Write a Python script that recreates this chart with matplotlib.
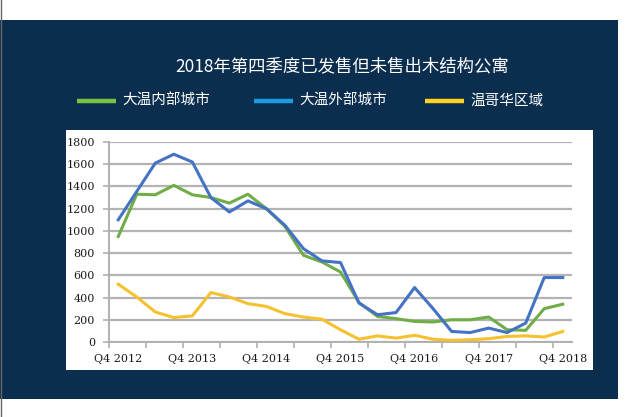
import matplotlib
matplotlib.use("Agg")
import matplotlib.pyplot as plt
from matplotlib.lines import Line2D
from matplotlib.patches import Rectangle

plt.rcParams['font.family'] = ['Noto Sans CJK SC', 'DejaVu Sans']

# ---- data (Q4 2012 .. Q4 2018, quarterly) ----
inner_city = [950, 1330, 1325, 1410, 1325, 1300, 1250, 1330, 1200, 1040,
              780, 720, 630, 355, 230, 210, 185, 180, 200, 200,
              225, 110, 105, 300, 340]
outer_city = [1100, 1355, 1610, 1690, 1620, 1300, 1170, 1270, 1200, 1050,
              840, 730, 715, 350, 245, 265, 490, 300, 95, 85,
              125, 85, 170, 580, 580]
vancouver = [520, 405, 270, 220, 235, 445, 405, 345, 320, 255,
             225, 205, 110, 25, 55, 35, 60, 25, 15, 20,
             30, 50, 55, 45, 95]
tick_labels = ["Q4 2012", "Q4 2013", "Q4 2014", "Q4 2015",
               "Q4 2016", "Q4 2017", "Q4 2018"]
y_ticks = [0, 200, 400, 600, 800, 1000, 1200, 1400, 1600, 1800]
series_names = ["大温内部城市", "大温外部城市", "温哥华区域"]
title = "2018年第四季度已发售但未售出木结构公寓"

W, H = 633, 417
fig = plt.figure(figsize=(W / 100, H / 100), dpi=100)
fig.patch.set_facecolor("white")

def fx(px):
    return px / W

def fy(py):
    return 1 - py / H

navy = "#0b2e4f"
fig.patches.append(Rectangle((0, fy(399)), fx(618), fy(19.5) - fy(399),
                             transform=fig.transFigure, facecolor=navy,
                             edgecolor="none", zorder=-2))
fig.patches.append(Rectangle((fx(66), fy(370)), fx(593) - fx(66), fy(130) - fy(370),
                             transform=fig.transFigure, facecolor="white",
                             edgecolor="none", zorder=-1))
fig.add_artist(Line2D([fx(0.5), fx(0.5)], [0, 1], transform=fig.transFigure,
                      color="#666666", lw=1.0, zorder=-1))

ax = fig.add_axes([fx(109), fy(342), fx(572) - fx(109), fy(142) - fy(342)])
ax.set_zorder(2)
ax.set_facecolor("none")
x = list(range(len(inner_city)))
ax.plot(x, inner_city, color="#70ad47", lw=2.2, zorder=3)
ax.plot(x, outer_city, color="#4472c4", lw=2.2, zorder=4)
ax.plot(x, vancouver, color="#f5c12e", lw=2.2, zorder=3)

tick_font = dict(fontsize=8, family=["DejaVu Serif"], color="#1a1a1a")
ax.set_xlim(-0.5, len(x) - 0.5)
ax.set_ylim(0, 1800)
ax.set_yticks(y_ticks)
ax.set_yticklabels([str(v) for v in y_ticks], **tick_font)
ax.set_xticks(x[::4])
ax.set_xticklabels(tick_labels, **tick_font)
ax.set_xticks([i - 0.5 for i in range(0, len(x), 2)], minor=True)
ax.tick_params(axis="x", which="major", length=0, pad=9)
ax.tick_params(axis="x", which="minor", length=4, width=1.2, color="#b0b0b0",
               direction="out")
ax.tick_params(axis="y", length=4, width=1.2, color="#b0b0b0", pad=6)
ax.grid(axis="y", color="#b3b3b3", lw=1.6)
ax.set_axisbelow(True)
for s in ["top", "right"]:
    ax.spines[s].set_visible(False)
for s in ["left", "bottom"]:
    ax.spines[s].set_color("#b0b0b0")
    ax.spines[s].set_linewidth(1.4)

fig.text(fx(342), fy(66), title, color="white", fontsize=12.5,
         ha="center", va="center")

leg_colors = ["#7cc242", "#1b9ce2", "#ffd21f"]
leg_x = [77, 254, 425]
for name, c, lx in zip(series_names, leg_colors, leg_x):
    fig.add_artist(Line2D([fx(lx), fx(lx + 39)], [fy(101), fy(101)],
                          transform=fig.transFigure, color=c, lw=3.2,
                          solid_capstyle="butt"))
    fig.text(fx(lx + 45), fy(101), name, color="white", fontsize=10.5,
             ha="left", va="center")

fig.savefig("out.png", dpi=100, facecolor=fig.get_facecolor())
